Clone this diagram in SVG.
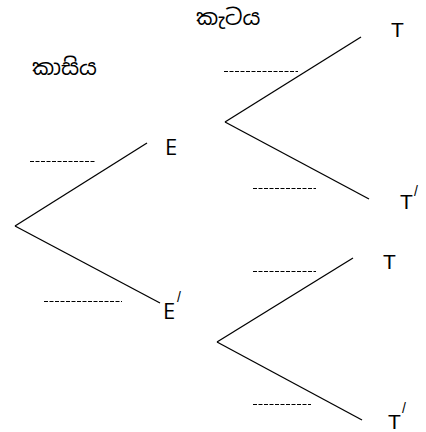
<svg xmlns="http://www.w3.org/2000/svg" width="426" height="432" viewBox="0 0 426 432">
<style>
.br{stroke:#000;stroke-width:1.3;fill:none}
.dash{stroke:#000;stroke-width:1;stroke-dasharray:4,1.5;fill:none}
.lbl{font-family:"Liberation Sans",Arial,sans-serif;font-size:21px;fill:#000}
.lblE{font-family:"Open Sans","Noto Sans",sans-serif;font-size:22px;fill:#000}
.sup{font-family:"Liberation Sans",Arial,sans-serif;font-size:14px;fill:#000}
.si{font-family:"Noto Sans Sinhala","Iskoola Pota","Noto Sans",sans-serif;font-size:22px;fill:#000}
</style>
<g id="connectors">
<line class="br" x1="15" y1="226" x2="147" y2="143"/>
<line class="br" x1="15" y1="226" x2="160" y2="303"/>
<line class="br" x1="225" y1="122" x2="361" y2="37"/>
<line class="br" x1="225" y1="122" x2="369" y2="199"/>
<line class="br" x1="217" y1="342" x2="353" y2="258"/>
<line class="br" x1="217" y1="342" x2="362" y2="420"/>
</g>
<g id="blanks">
<line class="dash" x1="224" y1="71.5" x2="298" y2="71.5"/>
<line class="dash" x1="30" y1="161.5" x2="96" y2="161.5"/>
<line class="dash" x1="44" y1="301.5" x2="122" y2="301.5"/>
<line class="dash" x1="253" y1="188.5" x2="316" y2="188.5"/>
<line class="dash" x1="253" y1="271.5" x2="316" y2="271.5"/>
<line class="dash" x1="253" y1="404.5" x2="311" y2="404.5"/>
</g>
<g id="header-coin"><text class="si" x="32" y="75">කාසිය</text></g>
<g id="header-die"><text class="si" x="196" y="25">කැටය</text></g>
<g id="node-E"><text class="lblE" x="165" y="155">E</text></g>
<g id="node-E2"><text class="lblE" x="163" y="319">E</text><text class="sup" x="177" y="302">/</text></g>
<g id="node-T1"><text class="lbl" x="391" y="37">T</text></g>
<g id="node-T1b"><text class="lbl" x="400" y="209">T</text><text class="sup" x="414" y="196">/</text></g>
<g id="node-T2"><text class="lbl" x="383" y="269">T</text></g>
<g id="node-T2b"><text class="lbl" x="388" y="429">T</text><text class="sup" x="402" y="413">/</text></g>
</svg>
